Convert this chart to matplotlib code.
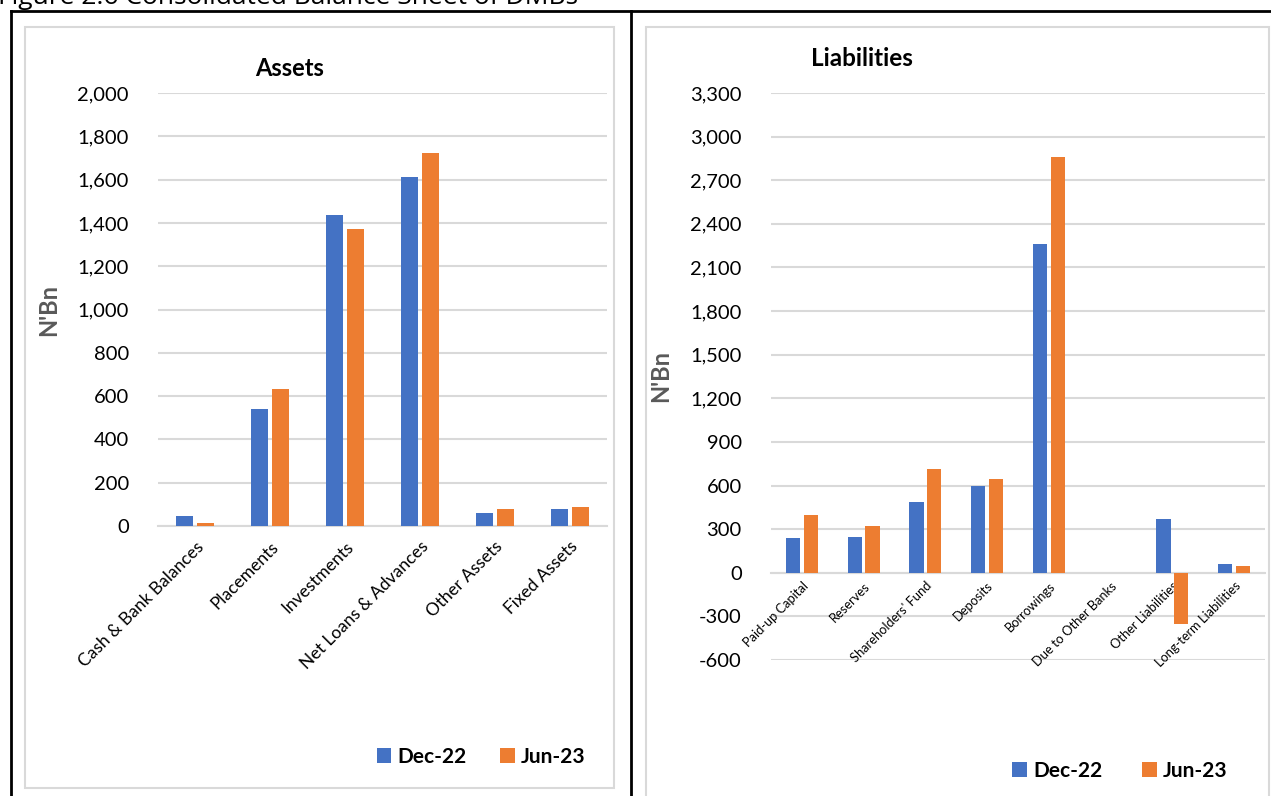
import matplotlib.pyplot as plt
from matplotlib.patches import Rectangle
from matplotlib.lines import Line2D
import numpy as np

plt.rcParams['font.family'] = ['Lato', 'DejaVu Sans']

# Assets (N'Bn)
asset_cats = ['Cash & Bank Balances', 'Placements', 'Investments',
              'Net Loans & Advances', 'Other Assets', 'Fixed Assets']
assets_dec22 = [45, 541, 1438, 1614, 58, 77]
assets_jun23 = [15, 634, 1374, 1724, 80, 89]

# Liabilities (N'Bn)
liab_cats = ['Paid-up Capital', 'Reserves', "Shareholders' Fund", 'Deposits',
             'Borrowings', 'Due to Other Banks', 'Other Liabilities',
             'Long-term Liabilities']
liab_dec22 = [236, 248, 487, 599, 2259, 0, 372, 57]
liab_jun23 = [399, 319, 716, 645, 2857, 0, -353, 48]

series_names = ['Dec-22', 'Jun-23']
blue = '#4472C4'
orange = '#ED7D31'
grid_col = '#D9D9D9'

W, H = 1271, 796
fig = plt.figure(figsize=(W / 100, H / 100), dpi=100)


def fx(px):
    return px / W


def fy(py):
    return 1 - py / H


# frame lines and chart boxes
for (x0, y0, x1, y1) in [(11, 11, W, 11), (11, 11, 11, H), (631, 11, 631, H)]:
    fig.add_artist(Line2D([fx(x0), fx(x1)], [fy(y0), fy(y1)], color='black', lw=2))
fig.add_artist(Rectangle((fx(25), fy(788)), fx(614 - 25), (788 - 27) / H,
                         fill=False, ec=grid_col, lw=1.5))
fig.add_artist(Rectangle((fx(646), fy(800)), fx(1269 - 646), (800 - 27) / H,
                         fill=False, ec=grid_col, lw=1.5))

# figure caption, cropped at the top edge like the source image
fig.text(fx(-2), fy(4), 'Figure 2.6 Consolidated Balance Sheet of DMBs',
         fontsize=19, va='baseline', ha='left', family=['Open Sans', 'DejaVu Sans'])


def draw_panel(ax, cats, dec, jun, width, off, ymin, ymax, step, cat_size, cat_pad):
    x = np.arange(len(cats))
    b1 = ax.bar(x - off, dec, width, color=blue, lw=0, zorder=3)
    b2 = ax.bar(x + off, jun, width, color=orange, lw=0, zorder=3)
    ax.set_xlim(-0.5, len(cats) - 0.5)
    ax.set_ylim(ymin, ymax)
    ax.set_yticks(np.arange(ymin, ymax + 1, step))
    ax.yaxis.set_major_formatter(plt.FuncFormatter(lambda v, p: f'{int(v):,}'))
    ax.yaxis.grid(True, color=grid_col, lw=1.5)
    ax.set_axisbelow(True)
    ax.xaxis.set_zorder(2.5)
    for s in ['top', 'right', 'left']:
        ax.spines[s].set_visible(False)
    ax.spines['bottom'].set_position(('data', 0))
    ax.spines['bottom'].set_color(grid_col)
    ax.spines['bottom'].set_linewidth(1.5)
    ax.spines['bottom'].set_zorder(2.6)
    ax.tick_params(axis='y', length=0, labelsize=14.5, pad=21)
    ax.tick_params(axis='x', length=0, pad=cat_pad)
    ax.set_xticks(x)
    ax.set_xticklabels(cats, rotation=45, ha='right', va='top',
                       rotation_mode='anchor', fontsize=cat_size)
    ax.set_ylabel("N'Bn", fontsize=17, fontweight='bold', color='#595959')
    return b1, b2


ax1 = fig.add_axes([fx(158), fy(526), fx(607 - 158), (526 - 93) / H])
h1 = draw_panel(ax1, asset_cats, assets_dec22, assets_jun23, 0.227, 0.14,
                0, 2000, 200, 12.5, 9)
ax1.yaxis.set_label_coords(-0.218, 0.5)

ax2 = fig.add_axes([fx(771), fy(660), fx(1265 - 771), (660 - 93) / H])
h2 = draw_panel(ax2, liab_cats, liab_dec22, liab_jun23, 0.23, 0.143,
                -600, 3300, 300, 9.3, 5)
ax2.yaxis.set_label_coords(-0.2, 0.5)

fig.text(fx(290), fy(69), 'Assets', fontsize=17, fontweight='bold', ha='center', va='center')
fig.text(fx(862), fy(59), 'Liabilities', fontsize=17.5, fontweight='bold', ha='center', va='center')

fig.legend(h1, series_names, loc='center', bbox_to_anchor=(fx(481), fy(757)), ncol=2,
           frameon=False, prop={'weight': 'bold', 'size': 15}, handlelength=0.7,
           handleheight=0.7, handletextpad=0.3, columnspacing=1.6)
fig.legend(h2, series_names, loc='center', bbox_to_anchor=(fx(1120), fy(771)), ncol=2,
           frameon=False, prop={'weight': 'bold', 'size': 15}, handlelength=0.7,
           handleheight=0.7, handletextpad=0.3, columnspacing=1.9)

fig.savefig('out.png', dpi=100)
